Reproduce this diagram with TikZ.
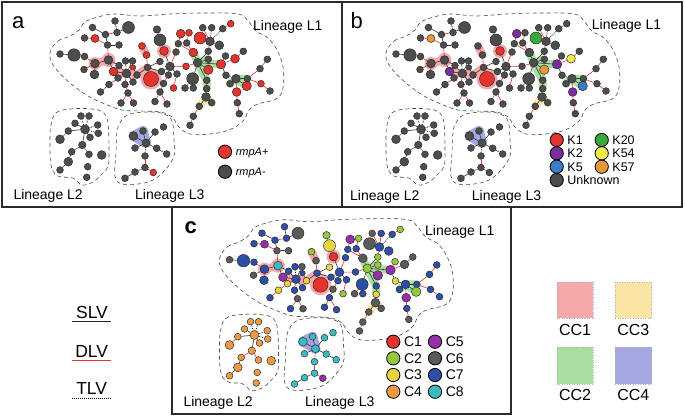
\documentclass[tikz,border=0pt]{standalone}
\usepackage{fontspec}
\setmainfont{Liberation Sans}
\usetikzlibrary{positioning}
\definecolor{gy}{HTML}{4D4D4D}
\definecolor{rd}{HTML}{E3342F}
\definecolor{dlvred}{HTML}{E8332F}
\definecolor{k1}{HTML}{E3342F}
\definecolor{k2}{HTML}{7B2D9E}
\definecolor{k5}{HTML}{3A7DC5}
\definecolor{k20}{HTML}{3AA83A}
\definecolor{k54}{HTML}{EEE84A}
\definecolor{k57}{HTML}{E8963A}
\definecolor{c1}{HTML}{E3342F}
\definecolor{c2}{HTML}{95C83C}
\definecolor{c3}{HTML}{E9D33F}
\definecolor{c4}{HTML}{E89A45}
\definecolor{c5}{HTML}{9430AA}
\definecolor{c6}{HTML}{5A5A5A}
\definecolor{c7}{HTML}{2F4FA6}
\definecolor{c8}{HTML}{3CBCC0}
\definecolor{cca}{HTML}{F7A8A8}
\definecolor{ccb}{HTML}{A9DF9F}
\definecolor{ccc}{HTML}{FBE5A5}
\definecolor{ccd}{HTML}{A3A8E0}
\definecolor{framegray}{HTML}{2B2B2B}

\pgfdeclarelayer{bglayer}
\pgfdeclarelayer{halolayer}
\pgfdeclarelayer{edgelayer}
\pgfsetlayers{bglayer,halolayer,edgelayer,main}

\tikzset{
  mnode/.style={circle, draw=black!85, line width=.45pt, inner sep=0pt},
  slv/.style={draw=black!80, line width=.6pt},
  dlv/.style={draw=dlvred, line width=.6pt},
  tlv/.style={draw=black, line width=.7pt, dash pattern=on .7pt off 1pt},
  halo/.style={draw=#1, line width=8pt, line cap=round, line join=round},
  lineage/.style={draw=black!70, line width=.6pt, dash pattern=on 4pt off 3pt},
  panelframe/.style={draw=framegray, line width=1.5pt},
  lbl/.style={anchor=base west, inner sep=0pt, font=\fontsize{14}{16}\selectfont},
  plabel/.style={anchor=base west, inner sep=0pt, font=\fontsize{22}{24}\selectfont},
  ldot/.style={circle, draw=black, line width=.8pt, inner sep=0pt, minimum size=13.3pt},
  ltxt/.style={inner sep=0pt, text depth=0pt, font=\fontsize{12.5}{14}\selectfont},
  lvtxt/.style={anchor=base, inner sep=0pt, font=\fontsize{17.5}{19}\selectfont},
  ccbox/.style={draw=gray!60, dotted, line width=.5pt, minimum size=36.5pt, inner sep=0pt},
  cclbl/.style={anchor=base, inner sep=0pt, font=\fontsize{16}{18}\selectfont},
}

% id/x/y/size/panel a/panel b/panel c
\newcommand\mstnodes{%
n1/60/54/6.8/gy/gy/c6,n2/74/55/12.5/gy/gy/c7,n3/84.5/56.5/6.8/gy/gy/c7,%
n4/95/63.5/8.8/gy/gy/c7,n5/84/69.5/6.8/gy/gy/c6,n6/94.5/74.5/8.8/gy/gy/c7,%
n7/108.5/60/8.8/gy/gy/c8,n8/113.5/71.5/8.8/rd/k2/c5,n9/95/38.5/8/rd/k57/c5,%
n10/84.5/38/6.8/gy/gy/c7,n11/92.5/27.5/6.8/gy/gy/c7,n12/105.5/34.5/6.8/gy/gy/c7,%
n13/107.5/45/6.8/gy/gy/c6,n14/119/45/6.8/gy/gy/c6,n15/117/32.5/6.8/gy/gy/c7,%
n16/115/21/6.8/gy/gy/c7,n17/128.5/27.5/12/gy/gy/c6,n18/125.5/61/6.8/gy/gy/c7,%
n19/132.5/61/6.8/gy/gy/c6,n20/119/65.5/6.8/gy/gy/c7,n21/126.5/73.5/8.8/gy/gy/c7,%
n22/133/67.5/5.5/rd/gy/c7,n23/137/75/6.8/gy/gy/c3,n24/118/78/6.8/gy/gy/c3,%
n25/109/84.5/6.8/gy/gy/c3,n26/100.5/92/6.8/gy/gy/c7,n27/125/84.5/6.8/gy/gy/c7,%
n28/128/93/6.8/gy/gy/c6,n29/121/103/6.8/gy/gy/c7,n30/133.5/103/6.8/gy/gy/c6,%
n31/133/82/6.8/gy/gy/c7,n32/151/79/15/rd/k1/c1,n33/147.5/67.5/6.8/gy/gy/c7,%
n34/161.5/71.5/6.8/gy/gy/c7,n35/160/61.5/6.8/gy/gy/c3,n36/142/46/6.8/rd/gy/c2,%
n37/146.5/55/6.8/rd/gy/c6,n38/157/29.5/7.5/gy/gy/c2,n39/160/40/12/gy/gy/c3,%
n40/164/51/8.8/rd/k1/c1,n41/170/66.5/8.8/gy/gy/c7,n42/168.5/75/6.8/gy/gy/c7,%
n43/163.5/83.5/6.8/gy/gy/c6,n44/160/92/6.8/gy/gy/c7,n45/155/101.5/6.8/gy/gy/c7,%
n46/173.5/88/6.8/rd/gy/c2,n47/176/52/6.8/gy/gy/c7,n48/177/74/6.8/gy/gy/c7,%
n50/180.7/33.7/8.8/rd/k2/c5,n51/189/32.7/6.8/rd/gy/c2,n52/178.3/43.7/6.8/gy/gy/c7,%
n53/186.7/43/6.8/gy/gy/c7,n54/202.7/27.7/6.8/gy/gy/c6,n55/211.7/27.7/6.8/gy/gy/c7,%
n56/200/38/12/rd/k20/c6,n57/210/41.3/8.8/gy/gy/c7,n58/222.7/28.7/6.8/gy/gy/c7,%
n59/230.7/23.7/6.8/rd/gy/c2,n60/219.3/45.3/8.8/gy/gy/c7,n61/193.3/52.5/8.8/rd/gy/c6,%
n62/208.3/51.3/6.8/gy/gy/c2,n63/186/66.3/6.8/rd/gy/c7,n64/197.7/62.7/8.8/gy/gy/c2,%
n65/208.3/59.3/6.8/gy/gy/c2,n66/221/64.3/9.5/rd/k2/c5,n67/235/58.7/8.8/rd/k54/c6,%
n68/243.3/51.3/6.8/gy/gy/c6,n69/208.3/69.7/9.5/rd/k57/c5,n70/226/75.3/6.8/gy/gy/c3,%
n71/236/78.7/8.8/gy/gy/c7,n72/247.3/78.7/6.8/gy/gy/c7,n73/260/68.7/6.8/gy/gy/c7,%
n74/267.3/59.3/6.8/gy/gy/c7,n75/192.7/78.7/12/gy/gy/c7,n76/206.7/80.3/6.8/gy/gy/c7,%
n77/230/83.7/6.8/gy/gy/c7,n78/246.7/86/9.5/rd/k5/c2,n79/261/83.7/6.8/rd/gy/c7,%
n80/270/91/6.8/gy/gy/c7,n82/185/88/6.8/gy/gy/c6,n83/193.3/88/6.8/gy/gy/c7,%
n84/236.7/92/8.8/rd/k2/c5,n85/206/97/8.8/gy/gy/c6,n86/199.3/106.3/6.8/gy/gy/c6,%
n87/211.7/102.7/6.8/gy/gy/c6,n88/237.3/102.7/6.8/gy/gy/c7,n89/239.3/113.7/6.8/gy/gy/c6,%
n90/193.3/116.3/6.8/gy/gy/c6,n91/190/125.3/6.8/gy/gy/c6,n93/206.7/88.7/6.8/gy/gy/c3,%
n94/225.5/56/6.8/gy/gy/c2,n95/167/104/6.8/gy/gy/c7,%
m1/81/116/6.8/gy/gy/c4,m2/89/116/6.8/gy/gy/c4,m3/75/123.3/6.8/gy/gy/c4,%
m4/97.7/125/6.8/gy/gy/c4,m5/85/129.3/9/gy/gy/c4,m6/68.3/131/6.8/gy/gy/c4,%
m7/98.3/133.3/6.8/gy/gy/c4,m8/90/137.3/6.8/gy/gy/c4,m9/60/139.3/8.8/gy/gy/c4,%
m10/82.3/145/7.5/gy/gy/c4,m11/71.7/151.7/6.8/gy/gy/c4,m12/89/154.3/6.8/gy/gy/c4,%
m13/101.7/155/8.8/gy/gy/c4,m14/68.3/161.7/8.8/gy/gy/c4,m15/60/170/6.8/gy/gy/c4,%
m16/87.7/166.7/6.8/gy/gy/c4,m17/86.7/177.3/6.8/gy/gy/c4,%
t1/133.5/136/8.8/gy/gy/c8,t2/143/131/6.8/gy/gy/c8,t3/155/132/6.8/gy/gy/c8,%
t4/163.5/127/6.8/gy/gy/c8,t5/146/143/8/gy/gy/c8,t6/135/148/6.8/gy/gy/c8,%
t7/156.7/148.3/6.8/gy/gy/c8,t8/166.7/154/6.8/gy/gy/c8,t9/145/156/6.8/gy/gy/c8,%
t10/145/167.5/6.8/gy/gy/c8,t11/135/172/6.8/gy/gy/c8,t12/125/178.3/6.8/gy/gy/c8,%
t13/153.3/172.5/6.8/rd/gy/c5}

\newcommand\mstedges{%
n1/n2/slv,n2/n3/slv,n3/n4/dlv,n4/n7/slv,n4/n5/dlv,n4/n6/dlv,n7/n13/dlv,n13/n12/slv,%
n12/n11/slv,n13/n14/slv,n12/n15/dlv,n15/n16/slv,n15/n17/slv,n9/n13/dlv,n9/n10/dlv,%
n7/n8/slv,n7/n20/slv,n20/n21/slv,n21/n18/tlv,n21/n19/slv,n8/n21/slv,n21/n24/dlv,%
n24/n25/dlv,n25/n26/dlv,n21/n27/dlv,n27/n28/dlv,n28/n29/dlv,n28/n30/dlv,n21/n31/slv,%
n21/n22/dlv,n22/n23/slv,n23/n33/slv,n33/n32/slv,n33/n37/dlv,n37/n36/dlv,n33/n35/slv,%
n33/n34/slv,n34/n41/slv,n41/n40/slv,n40/n39/dlv,n39/n38/slv,n41/n42/dlv,n42/n43/dlv,%
n43/n44/dlv,n44/n45/dlv,n44/n95/dlv,n41/n47/dlv,n41/n48/slv,n48/n46/dlv,n41/n63/dlv,%
n63/n64/dlv,n64/n61/slv,n61/n52/dlv,n52/n50/dlv,n61/n53/dlv,n53/n51/dlv,n64/n62/slv,%
n62/n57/dlv,n57/n56/slv,n57/n54/dlv,n57/n55/dlv,n57/n58/tlv,n58/n59/dlv,n57/n60/slv,%
n64/n65/slv,n64/n69/slv,n64/n66/slv,n66/n67/dlv,n67/n68/dlv,n66/n94/dlv,n64/n75/slv,%
n75/n82/dlv,n75/n83/dlv,n64/n76/slv,n76/n93/dlv,n93/n85/dlv,n85/n86/slv,n85/n87/slv,%
n86/n90/dlv,n90/n91/dlv,n66/n70/slv,n70/n71/slv,n71/n72/slv,n71/n77/slv,n71/n78/slv,%
n72/n73/dlv,n73/n74/dlv,n72/n79/dlv,n79/n80/dlv,n71/n84/dlv,n84/n88/dlv,n88/n89/dlv,%
m5/m1/tlv,m5/m2/tlv,m5/m3/slv,m5/m4/tlv,m5/m7/tlv,m5/m8/tlv,m5/m6/slv,m6/m9/dlv,%
m5/m10/slv,m10/m11/dlv,m10/m12/dlv,m11/m14/slv,m14/m15/slv,%
t5/t1/slv,t5/t2/slv,t5/t3/slv,t5/t6/slv,t5/t7/slv,t7/t8/slv,t5/t9/tlv,t9/t10/dlv,%
t10/t11/dlv,t11/t12/slv,t10/t13/dlv}

% #1 name prefix, #2 colouring (1 rmpA, 2 K type, 3 cluster)
\newcommand\drawmst[2]{%
  \draw[lineage] plot[smooth cycle, tension=.65] coordinates {(51,50) (58,41) (70,36) (79,30)
    (85,22) (98,17) (115,14) (140,16) (170,14) (205,13) (238,14) (248,21) (256,31) (268,38)
    (277,50) (283,67) (283,88) (276,99) (258,104) (249,110) (243,121) (229,130) (210,134)
    (190,134) (179,127) (172,117) (160,112) (140,111) (122,110) (105,104) (88,96) (70,83)
    (56,69) (50,58)};
  \draw[lineage] plot[smooth cycle, tension=.65] coordinates {(51,125) (56,113) (70,109)
    (92,109) (104,113) (108,124) (109,150) (108,166) (101,175) (93,182) (82,185) (73,178)
    (58,176) (51,165) (50,140)};
  \draw[lineage] plot[smooth cycle, tension=.65] coordinates {(121,121) (130,114) (150,112)
    (164,114) (172,121) (174,140) (174,156) (165,170) (153,180) (138,184) (122,184)
    (115,176) (116,152) (117,132)};
  \foreach \id/\x/\y/\dm/\ca/\cb/\cc in \mstnodes {%
    \ifcase#2\relax\or\let\nc\ca\or\let\nc\cb\or\let\nc\cc\fi
    \node[mnode, minimum size=\dm pt, fill=\nc] (#1\id) at (\x,\y) {};
  }%
  \begin{pgfonlayer}{edgelayer}
    \foreach \ea/\eb/\et in \mstedges {\draw[\et] (#1\ea) -- (#1\eb);}
  \end{pgfonlayer}
  \begin{pgfonlayer}{halolayer}
    \draw[halo=cca] (#1n4.center) -- (#1n7.center)
      (#1n8.center) -- (#1n21.center) -- (#1n23.center) -- (#1n33.center) -- (#1n32.center)
      (#1n36.center) -- (#1n37.center);
    \fill[cca] (#1n32) circle (10.5pt) (#1n40) circle (7pt) (#1n4) circle (6.5pt) (#1n7) circle (7pt);
    \draw[halo=ccb] (#1n61.center) -- (#1n64.center) -- (#1n66.center)
      (#1n64.center) -- (#1n65.center) (#1n64.center) -- (#1n69.center)
      (#1n64.center) -- (#1n76.center) -- (#1n93.center)
      (#1n77.center) -- (#1n71.center) -- (#1n72.center) (#1n71.center) -- (#1n78.center);
    \draw[halo=ccc] (#1n86.center) -- (#1n85.center) -- (#1n87.center);
    \draw[halo=ccd, line width=10pt] (#1t1.center) -- (#1t2.center) -- (#1t5.center) -- cycle;
  \end{pgfonlayer}%
}

\begin{document}
\begin{tikzpicture}[x=1pt, y=-1pt, font=\fontsize{12}{14}\selectfont]
  \useasboundingbox (0,0) rectangle (685,417);
  \begin{pgfonlayer}{bglayer}
    \fill[white] (0,0) rectangle (685,417);
  \end{pgfonlayer}

  % panels
  \draw[panelframe] (2,2) rectangle (342,207);
  \draw[panelframe] (342,2) rectangle (682,207);
  \draw[panelframe] (172,207) rectangle (511,414);

  \begin{scope}
    \drawmst{a}{1}
  \end{scope}
  \begin{scope}[shift={(336,0)}]
    \drawmst{b}{2}
  \end{scope}
  \begin{scope}[shift={(169.5,205.7)}]
    \drawmst{c}{3}
  \end{scope}

  \node[plabel] (taga) at (12,28.3) {a};
  \node[plabel] (tagb) at (350.5,28.3) {b};
  \node[plabel] (tagc) at (184.5,233.3) {\bfseries c};

  \node[lbl] (aL1) at (253,30.5) {Lineage L1};
  \node[lbl] (aL2) at (13.3,199.3) {Lineage L2};
  \node[lbl] (aL3) at (135,199.3) {Lineage L3};
  \node[lbl] (bL1) at (591.7,29.3) {Lineage L1};
  \node[lbl] (bL2) at (350,200.7) {Lineage L2};
  \node[lbl] (bL3) at (471.7,200.7) {Lineage L3};
  \node[lbl] (cL1) at (425,235) {Lineage L1};
  \node[lbl] (cL2) at (183.3,406) {Lineage L2};
  \node[lbl] (cL3) at (305,406) {Lineage L3};

  % legends
  \node[ldot, fill=rd] (rmpP) at (225,151.7) {};
  \node[ltxt, font=\fontsize{11}{13}\selectfont, right=3.5pt of rmpP] (rmpPt) {\textit{rmpA}+};
  \node[ldot, fill=gy] (rmpM) at (225,171.7) {};
  \node[ltxt, font=\fontsize{11}{13}\selectfont, right=3.5pt of rmpM] (rmpMt) {\textit{rmpA}-};

  \foreach \nm/\cl/\px/\py in {K1/k1/556.7/140, K2/k2/556.7/153.3, K5/k5/556.7/166.7,
      Unknown/gy/556.7/180, K20/k20/601.7/140, K54/k54/601.7/153.3, K57/k57/601.7/166.7}{
    \node[ldot, fill=\cl] (lg\nm) at (\px,\py) {};
    \node[ltxt, right=3.5pt of lg\nm] (lt\nm) {\nm};
  }
  \foreach \nm/\cl/\px/\py in {C1/c1/393.3/341.7, C2/c2/393.3/358.3, C3/c3/393.3/375,
      C4/c4/393.3/391.7, C5/c5/435/341.7, C6/c6/435/358.3, C7/c7/435/375, C8/c8/435/391.7}{
    \node[ldot, fill=\cl] (lg\nm) at (\px,\py) {};
    \node[ltxt, font=\fontsize{14}{16}\selectfont, right=3.5pt of lg\nm] (lt\nm) {\nm};
  }

  \node[lvtxt] (slvt) at (92,318.3) {SLV};
  \coordinate (slvA) at (71.7,321.7);
  \coordinate (slvB) at (111,321.7);
  \draw[draw=black!85, line width=1.5pt] (slvA) -- (slvB);
  \node[lvtxt] (dlvt) at (91.7,357.3) {DLV};
  \coordinate (dlvA) at (71.7,360.5);
  \coordinate (dlvB) at (111,360.5);
  \draw[draw=dlvred, line width=1.5pt] (dlvA) -- (dlvB);
  \node[lvtxt] (tlvt) at (91.7,394) {TLV};
  \coordinate (tlvA) at (71.7,398.5);
  \coordinate (tlvB) at (111,398.5);
  \draw[draw=black, line width=1.3pt, dash pattern=on 1pt off 1pt] (tlvA) -- (tlvB);

  \node[ccbox, fill=cca] (cc1) at (575,300) {};
  \node[ccbox, fill=ccc] (cc3) at (633.3,300) {};
  \node[ccbox, fill=ccb] (cc2) at (575,365.7) {};
  \node[ccbox, fill=ccd] (cc4) at (633.3,365.7) {};
  \node[cclbl] (cc1t) at (575,335) {CC1};
  \node[cclbl] (cc3t) at (633.3,335) {CC3};
  \node[cclbl] (cc2t) at (575,400.7) {CC2};
  \node[cclbl] (cc4t) at (633.3,400.7) {CC4};
\end{tikzpicture}
\end{document}
